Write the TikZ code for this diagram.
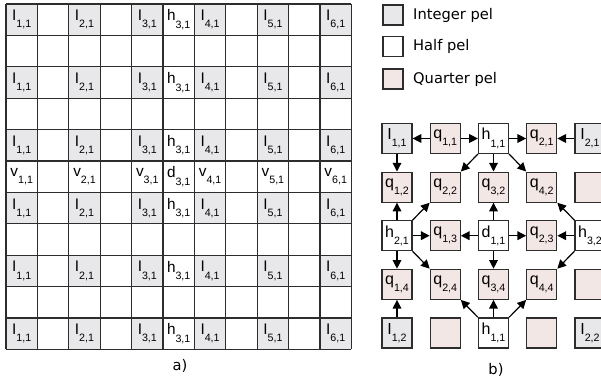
\documentclass[tikz,border=0pt]{standalone}
\usepackage{fontspec}
\newfontfamily\arialfont{Liberation Sans}
\newfontfamily\verdanafont{DejaVu Sans}
\usetikzlibrary{arrows.meta,positioning}

\definecolor{intpel}{RGB}{232,232,234}
\definecolor{qpel}{RGB}{243,231,229}
\definecolor{edge}{RGB}{45,45,45}

% pel label: letter with a low subscript
\newcommand{\pel}[2]{#1\raisebox{-5.5pt}{\fontsize{8}{9}\selectfont #2}}

\tikzset{
  gridline/.style={line width=1pt,draw=edge},
  cell/.style={minimum size=23.55pt,inner sep=0pt,font=\arialfont\fontsize{11.5}{13}\selectfont},
  intcell/.style={cell,fill=intpel},
  pelbox/.style={draw=edge,line width=0.9pt,minimum size=22.5pt,inner sep=0pt,
    font=\arialfont\fontsize{12}{13}\selectfont},
  intbox/.style={pelbox,fill=intpel},
  halfbox/.style={pelbox,fill=white},
  qbox/.style={pelbox,fill=qpel},
  legendbox/.style={draw=edge,line width=0.9pt,minimum size=15pt,inner sep=0pt},
  legendtext/.style={anchor=west,inner sep=0pt,font=\verdanafont\fontsize{11}{13}\selectfont},
  arr/.style={line width=0.9pt,-{Triangle[length=6.5pt,width=6.5pt]}}
}

\begin{document}
\begin{tikzpicture}[x=0.75pt,y=-0.75pt]
  \useasboundingbox (0,0) rectangle (601,387);
  \clip (0,0) rectangle (601,387);

  % a) full pel grid
  \foreach \r in {0,2,4,6,8,10} {
    \foreach \c/\k in {0/1,2/2,4/3,6/4,8/5,10/6}
      \node[intcell] (I-\r-\c) at ({6+31.4*(\c+0.5)},{4+31.4*(\r+0.5)}) {\pel{I}{\k,1}};
    \node[cell] (h-\r) at ({6+31.4*5.5},{4+31.4*(\r+0.5)}) {\pel{h}{3,1}};
  }
  \foreach \c/\k in {0/1,2/2,4/3,6/4,8/5,10/6}
    \node[cell] (v-\c) at ({6+31.4*(\c+0.5)},{4+31.4*5.5}) {\pel{v}{\k,1}};
  \node[cell] (d-5) at ({6+31.4*5.5},{4+31.4*5.5}) {\pel{d}{3,1}};
  \foreach \i in {0,...,11} {
    \draw[gridline] ({6+31.4*\i},4) -- ({6+31.4*\i},349.4);
    \draw[gridline] (6,{4+31.4*\i}) -- (351.4,{4+31.4*\i});
  }
  \node[font=\verdanafont\fontsize{11}{13}\selectfont] (capa) at (180,366) {a)};

  % legend
  \node[legendbox,fill=intpel] (legI) at (393,15) {};
  \node[legendtext,right=7pt of legI] (legIt) {Integer pel};
  \node[legendbox,fill=white] (legH) at (393,46.5) {};
  \node[legendtext,right=7pt of legH] (legHt) {Half pel};
  \node[legendbox,fill=qpel] (legQ) at (393,79) {};
  \node[legendtext,right=7pt of legQ] (legQt) {Quarter pel};

  % b) quarter pel neighbourhood
  \node[intbox]  (I11) at (397,138.5) {\pel{I}{1,1}};
  \node[qbox]    (q11) at (445.25,138.5) {\pel{q}{1,1}};
  \node[halfbox] (h11) at (493.5,138.5) {\pel{h}{1,1}};
  \node[qbox]    (q21) at (541.75,138.5) {\pel{q}{2,1}};
  \node[intbox]  (I21) at (590,138.5) {\pel{I}{2,1}};

  \node[qbox] (q12) at (397,187.1) {\pel{q}{1,2}};
  \node[qbox] (q22) at (445.25,187.1) {\pel{q}{2,2}};
  \node[qbox] (q32) at (493.5,187.1) {\pel{q}{3,2}};
  \node[qbox] (q42) at (541.75,187.1) {\pel{q}{4,2}};
  \node[qbox] (e25) at (590,187.1) {};

  \node[halfbox] (h21) at (397,235.7) {\pel{h}{2,1}};
  \node[qbox]    (q13) at (445.25,235.7) {\pel{q}{1,3}};
  \node[halfbox] (d11) at (493.5,235.7) {\pel{d}{1,1}};
  \node[qbox]    (q23) at (541.75,235.7) {\pel{q}{2,3}};
  \node[halfbox] (h32) at (590,235.7) {\pel{h}{3,2}};

  \node[qbox] (q14) at (397,284.3) {\pel{q}{1,4}};
  \node[qbox] (q24) at (445.25,284.3) {\pel{q}{2,4}};
  \node[qbox] (q34) at (493.5,284.3) {\pel{q}{3,4}};
  \node[qbox] (q44) at (541.75,284.3) {\pel{q}{4,4}};
  \node[qbox] (e45) at (590,284.3) {};

  \node[intbox]  (I12) at (397,332.9) {\pel{I}{1,2}};
  \node[qbox]    (e52) at (445.25,332.9) {};
  \node[halfbox] (h11b) at (493.5,332.9) {\pel{h}{1,1}};
  \node[qbox]    (e54) at (541.75,332.9) {};
  \node[intbox]  (I22) at (590,332.9) {\pel{I}{2,2}};

  % connectors
  \draw[arr] (q11) -- (I11);
  \draw[arr] (q11) -- (h11);
  \draw[arr] (h11) -- (q21);
  \draw[arr] (I21) -- (q21);
  \draw[arr] (I11) -- (q12);
  \draw[arr] (h11.south west) -- (q22.north east);
  \draw[arr] (h11) -- (q32);
  \draw[arr] (h11.south east) -- (q42.north west);
  \draw[arr] (h21) -- (q12);
  \draw[arr] (h21.north east) -- (q22.south west);
  \draw[arr] (d11) -- (q32);
  \draw[arr] (h32.north west) -- (q42.south east);
  \draw[arr] (h21) -- (q13);
  \draw[arr] (d11) -- (q13);
  \draw[arr] (d11) -- (q23);
  \draw[arr] (h32) -- (q23);
  \draw[arr] (h21) -- (q14);
  \draw[arr] (h21.south east) -- (q24.north west);
  \draw[arr] (d11) -- (q34);
  \draw[arr] (h32.south west) -- (q44.north east);
  \draw[arr] (I12) -- (q14);
  \draw[arr] (h11b.north west) -- (q24.south east);
  \draw[arr] (h11b) -- (q34);
  \draw[arr] (h11b.north east) -- (q44.south west);
  \node[font=\verdanafont\fontsize{11}{13}\selectfont] (capb) at (496,370) {b)};
\end{tikzpicture}
\end{document}
